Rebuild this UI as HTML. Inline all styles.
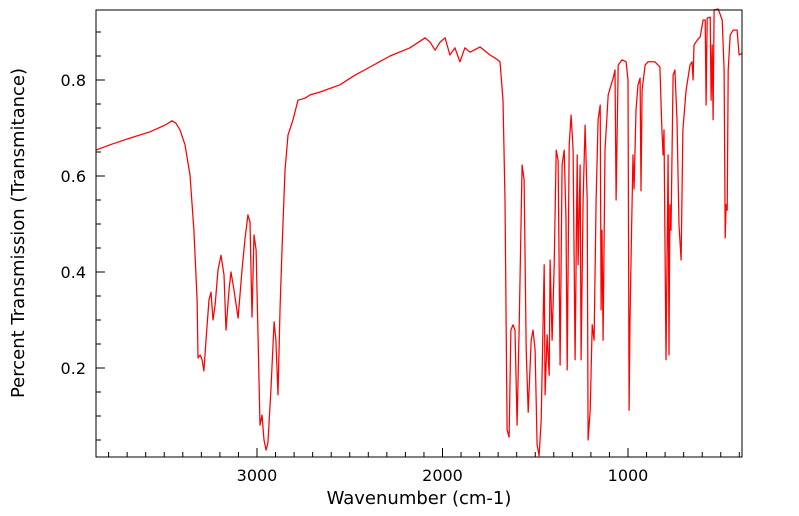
<!DOCTYPE html>
<html><head><meta charset="utf-8"><style>
html,body{margin:0;padding:0;background:#fff;width:799px;height:516px;overflow:hidden}
svg text{font-family:"DejaVu Sans","Liberation Sans",sans-serif;fill:#000}
</style></head><body>
<svg id="chart" width="799" height="516" xmlns="http://www.w3.org/2000/svg">
<g id="ticks"></g>
<path id="series" fill="none" stroke="#ff0000" stroke-width="1.25" stroke-linejoin="round"/>
<rect x="96" y="10" width="646" height="447" fill="none" stroke="#000" stroke-width="1"/>
<text x="419" y="504" text-anchor="middle" font-size="18">Wavenumber (cm-1)</text>
<text transform="translate(24,233) rotate(-90)" text-anchor="middle" font-size="18">Percent Transmission (Transmitance)</text>
<g id="labels"></g>
</svg>
<script>
const wavenumbers=[3868,3793,3685,3577,3496,3458,3437,3415,3388,3361,3340,3323,3318,3307,3296,3286,3275,3259,3248,3237,3226,3210,3194,3178,3167,3151,3140,3124,3102,3081,3065,3049,3038,3027,3016,3005,2995,2984,2973,2962,2951,2941,2925,2908,2898,2887,2876,2865,2849,2833,2806,2779,2741,2714,2660,2553,2472,2391,2283,2175,2094,2067,2040,2013,1986,1960,1933,1906,1879,1852,1798,1744,1717,1690,1674,1663,1652,1641,1631,1620,1609,1598,1587,1571,1560,1549,1538,1522,1512,1501,1490,1479,1468,1452,1447,1436,1425,1420,1409,1398,1387,1377,1366,1355,1344,1334,1328,1317,1307,1296,1285,1274,1269,1258,1253,1242,1231,1220,1215,1204,1193,1183,1172,1161,1150,1145,1140,1134,1124,1107,1091,1080,1070,1064,1053,1032,1010,1000,994,989,983,973,967,957,946,935,930,924,908,892,855,828,817,811,806,795,784,779,774,768,757,747,736,725,714,704,687,666,655,649,644,627,611,595,584,579,573,557,552,546,541,536,514,492,482,476,471,465,460,449,433,412,401,385];
const transmittance=[0.654,0.665,0.679,0.692,0.706,0.715,0.710,0.696,0.665,0.602,0.487,0.342,0.221,0.227,0.217,0.194,0.258,0.342,0.358,0.300,0.331,0.404,0.435,0.394,0.279,0.362,0.400,0.362,0.304,0.404,0.467,0.519,0.504,0.306,0.477,0.446,0.279,0.081,0.102,0.050,0.029,0.044,0.154,0.296,0.258,0.144,0.321,0.446,0.612,0.685,0.717,0.758,0.762,0.769,0.775,0.790,0.810,0.827,0.850,0.867,0.888,0.879,0.862,0.879,0.888,0.852,0.867,0.838,0.867,0.858,0.869,0.852,0.846,0.838,0.758,0.550,0.071,0.056,0.279,0.290,0.279,0.081,0.279,0.623,0.592,0.238,0.108,0.258,0.279,0.238,0.040,0.017,0.092,0.415,0.144,0.269,0.185,0.425,0.258,0.415,0.654,0.633,0.206,0.623,0.654,0.508,0.196,0.665,0.727,0.654,0.217,0.644,0.415,0.623,0.217,0.550,0.706,0.550,0.050,0.112,0.290,0.258,0.550,0.717,0.748,0.321,0.487,0.258,0.654,0.769,0.790,0.804,0.821,0.550,0.831,0.842,0.838,0.800,0.112,0.300,0.446,0.644,0.573,0.738,0.790,0.804,0.569,0.779,0.831,0.838,0.838,0.827,0.696,0.644,0.696,0.217,0.644,0.227,0.540,0.487,0.810,0.821,0.717,0.498,0.425,0.696,0.779,0.831,0.838,0.800,0.873,0.883,0.890,0.925,0.925,0.748,0.929,0.931,0.758,0.873,0.717,0.946,0.948,0.925,0.821,0.471,0.540,0.529,0.821,0.894,0.904,0.904,0.852,0.856];
const xTickLabels=[3000,2000,1000];
const yTickLabels=[0.2,0.4,0.6,0.8];
const X0=96,X1=742,Y0=10,Y1=457;
const xScale=w=>257+(3000-w)*0.1855;
const yScale=t=>80-(t-0.8)*480;
const NS="http://www.w3.org/2000/svg";
let d="";
for(let i=0;i<wavenumbers.length;i++){d+=(i?"L":"M")+xScale(wavenumbers[i]).toFixed(1)+","+yScale(transmittance[i]).toFixed(1);}
document.getElementById('series').setAttribute('d',d);
const tg=document.getElementById('ticks'),lg=document.getElementById('labels');
function line(x1,y1,x2,y2){const l=document.createElementNS(NS,'line');l.setAttribute('x1',x1);l.setAttribute('y1',y1);l.setAttribute('x2',x2);l.setAttribute('y2',y2);l.setAttribute('stroke','#000');l.setAttribute('stroke-width','1');


tg.appendChild(l);}
for(let w=400;w<=3800;w+=100){const x=xScale(w);if(x<X0||x>X1)continue;const L=(w%1000===0)?9:5;line(x,Y1,x,Y1-L);}
for(let t=0.05;t<0.95;t+=0.05){const v=Math.round(t*100)/100;const y=yScale(v);if(y<Y0||y>Y1)continue;const L=(Math.round(v*100)%20===0)?9:5;line(X0,y,X0+L,y);}
xTickLabels.forEach(w=>{const t=document.createElementNS(NS,'text');t.setAttribute('x',xScale(w));t.setAttribute('y',481);t.setAttribute('text-anchor','middle');t.setAttribute('font-size','16');t.textContent=w;


lg.appendChild(t);});
yTickLabels.forEach(v=>{const t=document.createElementNS(NS,'text');t.setAttribute('x',86);t.setAttribute('y',yScale(v)+6);t.setAttribute('text-anchor','end');t.setAttribute('font-size','16');t.textContent=v.toFixed(1);


lg.appendChild(t);});
</script>
</body></html>
